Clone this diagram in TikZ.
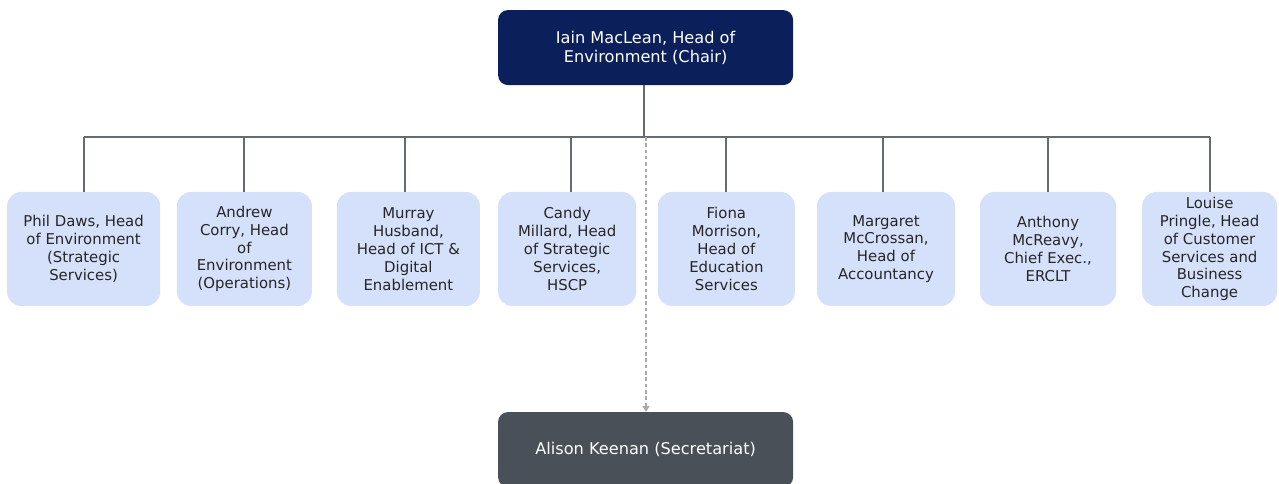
\documentclass[tikz,border=0pt]{standalone}
\usepackage{fontspec}
\setmainfont{DejaVu Sans}
\usepackage{xcolor}
\usetikzlibrary{arrows.meta}
\definecolor{chairnavy}{HTML}{0B1F5B}
\definecolor{memberblue}{HTML}{D5E0FA}
\definecolor{secgrey}{HTML}{495057}
\definecolor{linegrey}{HTML}{646B73}
\definecolor{dashgrey}{HTML}{A8ABAE}

\begin{document}
\begin{tikzpicture}[
    headbox/.style={rounded corners=7pt, minimum width=7.375cm, minimum height=1.875cm,
      align=center, text=white, font=\fontsize{11.5}{13.6}\selectfont},
    memberbox/.style={fill=memberblue, rounded corners=10pt, minimum height=2.85cm,
      inner sep=1pt, align=center, text=black!85, font=\fontsize{10.6}{12.7}\selectfont},
    link/.style={linegrey, line width=1.3pt},
  ]
  \useasboundingbox (0,0) rectangle (31.975,12.1);

  \node[headbox, fill=chairnavy] (chair) at (16.14,10.91) {Iain MacLean, Head of\\Environment (Chair)};

  \node[memberbox, minimum width=3.825cm] (daws) at (2.09,5.875) {Phil Daws, Head\\of Environment\\(Strategic\\Services)};
  \node[memberbox, minimum width=3.375cm] (corry) at (6.11,5.875) {Andrew\\Corry, Head\\of\\Environment\\(Operations)};
  \node[memberbox, minimum width=3.575cm] (husband) at (10.21,5.875) {Murray\\Husband,\\Head of ICT \&\\Digital\\Enablement};
  \node[memberbox, minimum width=3.45cm] (millard) at (14.18,5.875) {Candy\\Millard, Head\\of Strategic\\Services,\\HSCP};
  \node[memberbox, minimum width=3.425cm] (morrison) at (18.16,5.875) {Fiona\\Morrison,\\Head of\\Education\\Services};
  \node[memberbox, minimum width=3.45cm] (mccrossan) at (22.15,5.875) {Margaret\\McCrossan,\\Head of\\Accountancy};
  \node[memberbox, minimum width=3.4cm] (mcreavy) at (26.2,5.875) {Anthony\\McReavy,\\Chief Exec.,\\ERCLT};
  \node[memberbox, minimum width=3.375cm] (pringle) at (30.24,5.875) {Louise\\Pringle, Head\\of Customer\\Services and\\Business\\Change};

  \node[headbox, fill=secgrey] (secretariat) at (16.14,0.86) {Alison Keenan (Secretariat)};

  % tree lines
  \coordinate (bus) at (16.1,8.675);
  \draw[link] (chair.south -| bus) -- (bus);
  \draw[link] (daws.north |- bus) -- (pringle.north |- bus);
  \foreach \m/\dx in {daws/0,corry/0,husband/-0.09,millard/0.1,morrison/0,mccrossan/-0.075,mcreavy/0,pringle/0}
    \draw[link] ([xshift=\dx cm]\m.north |- bus) -- ([xshift=\dx cm]\m.north);

  % secretariat
  \draw[dashgrey, line width=0.8pt, dash pattern=on 2.5pt off 2pt, -{Triangle[width=5pt,length=4pt]}]
    ([xshift=0.05cm]bus) -- ([xshift=0.05cm]bus |- secretariat.north);
\end{tikzpicture}
\end{document}
